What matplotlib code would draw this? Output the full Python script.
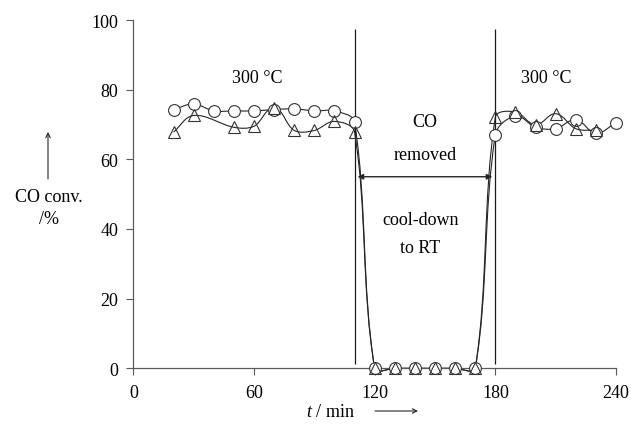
import matplotlib
matplotlib.use("Agg")
import matplotlib.pyplot as plt
import numpy as np
from matplotlib.path import Path
from matplotlib.patches import PathPatch

plt.rcParams['font.family'] = ['Liberation Serif', 'DejaVu Serif']
plt.rcParams['mathtext.fontset'] = 'custom'
plt.rcParams['mathtext.it'] = 'Liberation Serif:italic'
plt.rcParams['mathtext.rm'] = 'Liberation Serif'

# data
t_circ = [20, 30, 40, 50, 60, 70, 80, 90, 100, 110,
          120, 130, 140, 150, 160, 170,
          180, 190, 200, 210, 220, 230, 240]
conv_circ = [74.3, 75.9, 73.9, 73.9, 73.9, 74.3, 74.5, 73.9, 73.9, 70.7,
             0, 0, 0, 0, 0, 0,
             67.0, 72.4, 69.2, 68.8, 71.4, 67.5, 70.5]
t_tri = [20, 30, 50, 60, 70, 80, 90, 100, 110,
         120, 130, 140, 150, 160, 170,
         180, 190, 200, 210, 220, 230]
conv_tri = [67.8, 72.6, 69.2, 69.5, 74.7, 68.3, 68.3, 70.9, 67.8,
            0, 0, 0, 0, 0, 0,
            72.1, 73.6, 69.9, 73.1, 68.8, 68.3]
switch_times = [110, 180]
x_ticks = [0, 60, 120, 180, 240]
y_ticks = [0, 20, 40, 60, 80, 100]


def smooth_path(ax, x, y, k=1 / 3):
    # smoothed line through the points; tangents are worked out on screen
    # and each control arm is a third of its own segment length
    pts = np.column_stack([x, y]).astype(float)
    scr = ax.transData.transform(pts)
    n = len(scr)
    c_in = scr.copy()
    c_out = scr.copy()
    for i in range(n):
        tang = scr[min(i + 1, n - 1)] - scr[max(i - 1, 0)]
        u = tang / np.hypot(*tang)
        if i > 0:
            c_in[i] = scr[i] - k * np.hypot(*(scr[i] - scr[i - 1])) * u
        if i < n - 1:
            c_out[i] = scr[i] + k * np.hypot(*(scr[i + 1] - scr[i])) * u
    inv = ax.transData.inverted()
    verts = [pts[0]]
    codes = [Path.MOVETO]
    for i in range(n - 1):
        verts += [inv.transform(c_out[i]), inv.transform(c_in[i + 1]), pts[i + 1]]
        codes += [Path.CURVE4] * 3
    return Path(verts, codes)


fig = plt.figure(figsize=(6.31, 4.27), dpi=100)
ax = fig.add_axes([0.2113, 0.1351, 0.765, 0.8157])
ax.set_xlim(0, 240)
ax.set_ylim(0, 100)

for tt, cc in [(t_circ, conv_circ), (t_tri, conv_tri)]:
    ax.add_patch(PathPatch(smooth_path(ax, tt, cc), facecolor='none',
                           edgecolor='0.15', lw=0.8, transform=ax.transData,
                           clip_on=False))

ax.plot(t_circ, conv_circ, ls='none', marker='o', ms=8.5, mfc='white',
        mec='0.2', mew=0.8, zorder=3, clip_on=False)
ax.plot(t_tri, conv_tri, ls='none', marker='^', ms=8.5, mfc='none',
        mec='0.2', mew=0.8, zorder=4, clip_on=False)

ax.vlines(switch_times, 1.2, 97.5, color='0.1', lw=0.9)

ax.annotate('', xy=(111.5, 55), xytext=(178.5, 55),
            arrowprops=dict(arrowstyle='<|-|>', color='0.15', lw=1.0,
                            mutation_scale=8, shrinkA=0, shrinkB=0))

fs = 13
ax.text(61.7, 83.4, '300 °C', ha='center', va='center', fontsize=fs)
ax.text(205.3, 83.4, '300 °C', ha='center', va='center', fontsize=fs)
ax.text(145, 70.8, 'CO', ha='center', va='center', fontsize=fs)
ax.text(145, 61.5, 'removed', ha='center', va='center', fontsize=fs)
ax.text(142.6, 42.8, 'cool-down', ha='center', va='center', fontsize=fs)
ax.text(142.6, 34.8, 'to RT', ha='center', va='center', fontsize=fs)

ax.set_xticks(x_ticks)
ax.set_yticks(y_ticks)
ax.tick_params(direction='out', length=5, width=0.8, color='0.35',
               labelsize=fs, pad=6)
for s in ['top', 'right']:
    ax.spines[s].set_visible(False)
for s in ['left', 'bottom']:
    ax.spines[s].set_color('0.35')
    ax.spines[s].set_linewidth(0.9)

# y label with upward arrow
fig.text(49 / 631, 1 - 197 / 427, 'CO conv.', ha='center', va='center', fontsize=fs)
fig.text(49 / 631, 1 - 220 / 427, '/%', ha='center', va='center', fontsize=fs)
ax.annotate('', xy=(48 / 631, 1 - 133 / 427), xytext=(48 / 631, 1 - 180 / 427),
            xycoords='figure fraction', textcoords='figure fraction',
            arrowprops=dict(arrowstyle='->', color='0.15', lw=0.8,
                            mutation_scale=8, shrinkA=0, shrinkB=0))

# x label with right arrow
fig.text(355 / 631, 1 - 413 / 427, '$t$ / min', ha='right', va='center', fontsize=fs)
ax.annotate('', xy=(418 / 631, 1 - 412 / 427), xytext=(375 / 631, 1 - 412 / 427),
            xycoords='figure fraction', textcoords='figure fraction',
            arrowprops=dict(arrowstyle='->', color='0.15', lw=0.8,
                            mutation_scale=8, shrinkA=0, shrinkB=0))

fig.savefig('out.png', dpi=100)
